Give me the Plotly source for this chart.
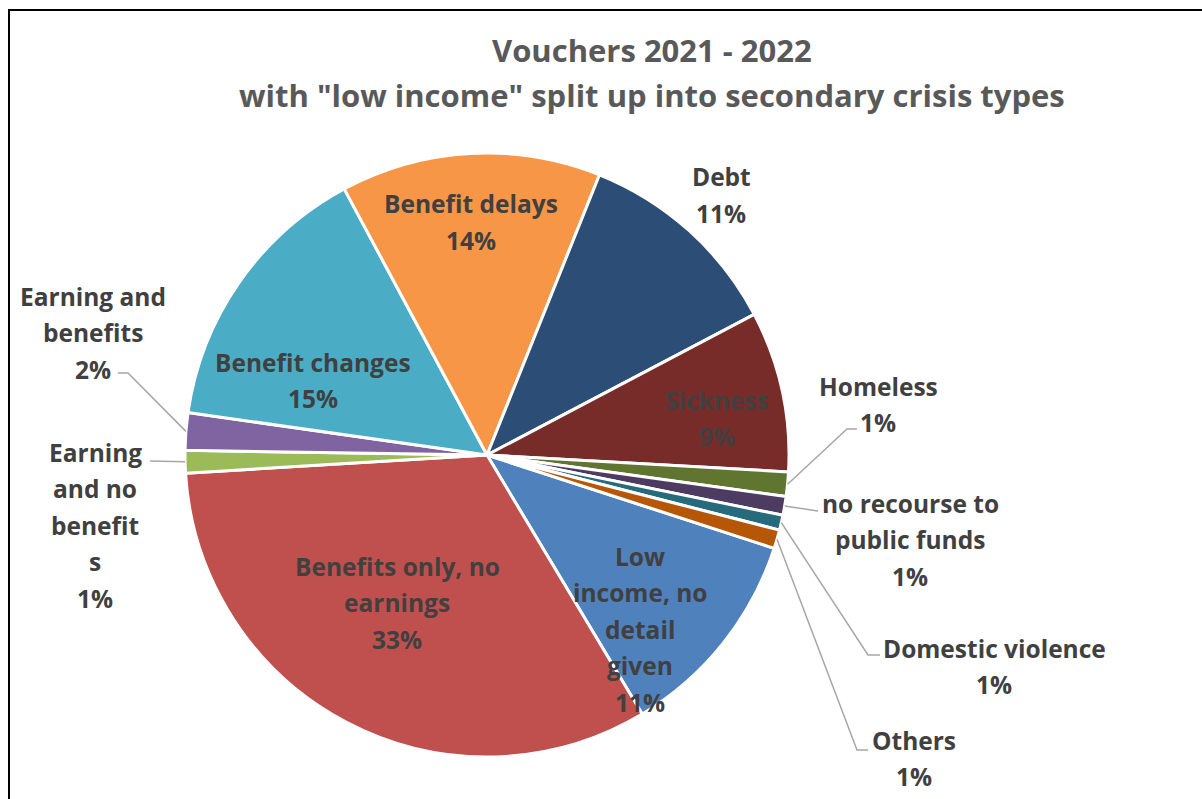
import math
import plotly.graph_objects as go

# Voucher shares by crisis type, in the order the slices run clockwise
categories = [
    "Low income, no detail given",
    "Benefits only, no earnings",
    "Earning and no benefits",
    "Earning and benefits",
    "Benefit changes",
    "Benefit delays",
    "Debt",
    "Sickness",
    "Homeless",
    "no recourse to public funds",
    "Domestic violence",
    "Others",
]
shares = [11.4, 32.6, 1.2, 2.0, 14.9, 13.9, 11.2, 8.6, 1.3, 1.0, 0.8, 1.0]

# How each category name wraps in its label
label_lines = [
    ["Low", "income, no", "detail", "given"],
    ["Benefits only, no", "earnings"],
    ["Earning", "and no", "benefit", "s"],
    ["Earning and", "benefits"],
    ["Benefit changes"],
    ["Benefit delays"],
    ["Debt"],
    ["Sickness"],
    ["Homeless"],
    ["no recourse to", "public funds"],
    ["Domestic violence"],
    ["Others"],
]

colors = [
    "#4F81BD", "#C0504D", "#9BBB59", "#8064A2", "#4BACC6", "#F79646",
    "#2C4D75", "#772C2A", "#5F7530", "#4D3B62", "#276A7C", "#B65708",
]

title_lines = ["Vouchers 2021 - 2022",
               'with "low income" split up into secondary crisis types']

W, H = 1202, 799
CX, CY, R = 487, 455, 302          # pie centre and radius in pixels
START_ANGLE = 108                   # first slice starts here, clockwise from 12 o'clock
LINE_GAP = 36.5
FONT = "Open Sans"
TEXT_COLOR = "#404040"
LEADER_COLOR = "#A6A6A6"

# label centre (x) and first-line centre (y) in pixels
label_pos = {
    "Low income, no detail given": (640, 556),
    "Benefits only, no earnings": (397, 566),
    "Earning and no benefits": (95, 452),
    "Earning and benefits": (93, 296),
    "Benefit changes": (313, 362),
    "Benefit delays": (471, 204),
    "Debt": (721, 177),
    "Sickness": (717, 400),
    "Homeless": (878, 386),
    "no recourse to public funds": (910, 503),
    "Domestic violence": (994, 648),
    "Others": (914, 740),
}

# leader-line bend points (pixels) for labels set outside the pie
leader_bends = {
    "Earning and benefits": [(128, 373), (118, 373)],
    "Earning and no benefits": [(150, 461)],
    "Homeless": [(847, 429), (857, 429)],
    "no recourse to public funds": [(818, 511)],
    "Domestic violence": [(868, 655), (880, 655)],
    "Others": [(857, 750), (868, 750)],
}


def px(x):
    return x / W


def py(y):
    return 1 - y / H


total = sum(shares)
pcts = [f"{round(v / total * 100)}%" for v in shares]

fig = go.Figure(go.Pie(
    labels=categories,
    values=shares,
    sort=False,
    direction="clockwise",
    rotation=START_ANGLE,
    textinfo="none",
    hoverinfo="label+percent",
    marker=dict(colors=colors, line=dict(color="white", width=3)),
    domain=dict(x=[px(CX - R), px(CX + R)], y=[py(CY + R), py(CY - R)]),
    showlegend=False,
))

annotations = []
shapes = []

# title
for i, line in enumerate(title_lines):
    annotations.append(dict(
        x=px(652), y=py(50 + i * 45), xref="paper", yref="paper",
        text=line, showarrow=False, xanchor="center", yanchor="middle",
        font=dict(family=FONT, size=31, color="#595959", weight="bold"),
    ))

# data labels
cum = 0.0
for name, v, lines, pct in zip(categories, shares, label_lines, pcts):
    mid = START_ANGLE + (cum + v / 2) / total * 360
    cum += v
    x0, y0 = label_pos[name]
    for j, t in enumerate(lines + [pct]):
        annotations.append(dict(
            x=px(x0), y=py(y0 + j * LINE_GAP), xref="paper", yref="paper",
            text=t, showarrow=False, xanchor="center", yanchor="middle",
            font=dict(family=FONT, size=24.5, color=TEXT_COLOR, weight="bold"),
        ))
    if name in leader_bends:
        a = math.radians(mid)
        pts = [(CX + R * math.sin(a), CY - R * math.cos(a))] + leader_bends[name]
        path = "M " + " L ".join(f"{px(x):.5f},{py(y):.5f}" for x, y in pts)
        shapes.append(dict(type="path", path=path, xref="paper", yref="paper",
                           line=dict(color=LEADER_COLOR, width=1.5)))

# chart frame (left and top edges)
shapes.append(dict(type="line", xref="paper", yref="paper",
                   x0=px(9), y0=py(10), x1=px(9), y1=py(H + 5),
                   line=dict(color="black", width=2)))
shapes.append(dict(type="line", xref="paper", yref="paper",
                   x0=px(8), y0=py(10), x1=px(W + 5), y1=py(10),
                   line=dict(color="black", width=2)))

fig.update_layout(
    width=W, height=H,
    margin=dict(l=0, r=0, t=0, b=0),
    paper_bgcolor="white",
    plot_bgcolor="white",
    annotations=annotations,
    shapes=shapes,
)

fig.write_html("out.html")
